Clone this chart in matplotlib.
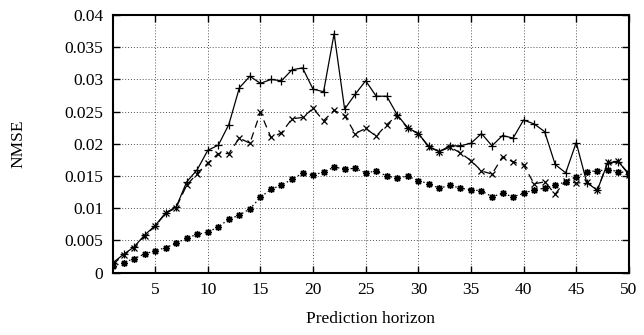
import numpy as np
import matplotlib
matplotlib.use("Agg")
import matplotlib.pyplot as plt

plt.rcParams['font.family'] = ['Liberation Serif', 'DejaVu Serif']

horizon = np.arange(1, 51)

# NMSE per prediction horizon, three models
nmse_solid = [
    0.00155, 0.00285, 0.0040, 0.00585, 0.0073, 0.0093, 0.0102, 0.0141, 0.0160, 0.0190,
    0.0198, 0.0230, 0.0287, 0.0305, 0.0294, 0.0300, 0.0298, 0.0315, 0.0318, 0.0285,
    0.0281, 0.0371, 0.0254, 0.0277, 0.0298, 0.0274, 0.0274, 0.0245, 0.0225, 0.0216,
    0.0196, 0.0188, 0.0197, 0.0197, 0.0201, 0.0216, 0.0197, 0.0213, 0.0209, 0.0237,
    0.0231, 0.0219, 0.0168, 0.0155, 0.0202, 0.0140, 0.0128, 0.0171, 0.0172, 0.0154,
]
nmse_dashed = [
    0.0013, 0.00275, 0.0039, 0.0057, 0.00725, 0.0092, 0.0101, 0.0136, 0.0154, 0.0170,
    0.0185, 0.0185, 0.0209, 0.0201, 0.0249, 0.0210, 0.0217, 0.0239, 0.0241, 0.0255,
    0.0236, 0.0252, 0.0244, 0.0216, 0.0224, 0.0212, 0.0230, 0.0244, 0.0224, 0.0216,
    0.0195, 0.0188, 0.0195, 0.0186, 0.0174, 0.0158, 0.0153, 0.0180, 0.0172, 0.0167,
    0.0138, 0.0141, 0.0122, 0.0143, 0.0139, 0.0141, 0.0128, 0.0172, 0.0173, 0.0152,
]
nmse_dotted = [
    0.0010, 0.00155, 0.0022, 0.0029, 0.0034, 0.0039, 0.00455, 0.0054, 0.00595, 0.0063,
    0.0071, 0.0083, 0.00895, 0.0099, 0.0117, 0.01295, 0.0136, 0.0145, 0.01545, 0.0152,
    0.0156, 0.0164, 0.0161, 0.0162, 0.0155, 0.0158, 0.0150, 0.0147, 0.0150, 0.0143,
    0.0138, 0.0131, 0.0136, 0.0131, 0.0129, 0.0127, 0.0118, 0.0123, 0.0118, 0.0123,
    0.0129, 0.0131, 0.0136, 0.0141, 0.0149, 0.0157, 0.0158, 0.0160, 0.0157, 0.0155,
]

x_ticks = [5, 10, 15, 20, 25, 30, 35, 40, 45, 50]
y_ticks = [0, 0.005, 0.01, 0.015, 0.02, 0.025, 0.03, 0.035, 0.04]
y_tick_labels = ['0', '0.005', '0.01', '0.015', '0.02', '0.025', '0.03', '0.035', '0.04']

fig = plt.figure(figsize=(6.44, 3.35), dpi=100)
ax = fig.add_axes([0.1755, 0.186, 0.801, 0.769])

asterisk = (8, 2, 0)
ax.plot(horizon, nmse_solid, color='black', lw=0.9, ls='-', marker='+',
        ms=5.5, mew=0.9, zorder=3)
ax.plot(horizon, nmse_dashed, color='black', lw=0.9, ls=(0, (6, 4)), marker='x',
        ms=4.5, mew=0.9, zorder=3)
ax.plot(horizon, nmse_dotted, color='black', lw=0.9, ls=(0, (1.2, 2.2)), marker=asterisk,
        ms=5, mew=1.0, zorder=3)

ax.set_xlim(1, 50)
ax.set_ylim(0, 0.04)
ax.set_xticks(x_ticks)
ax.set_yticks(y_ticks)
ax.set_yticklabels(y_tick_labels)

ax.grid(True, color='#555555', ls=(0, (1, 2)), lw=0.7)
ax.tick_params(direction='in', top=True, right=True, length=5, width=1.0,
               labelsize=12.5, pad=7)
for s in ax.spines.values():
    s.set_linewidth(1.5)

ax.set_xlabel('Prediction horizon', fontsize=12.5, labelpad=9)
ax.set_ylabel('NMSE', fontsize=12.5, labelpad=27)

fig.savefig('out.png', dpi=100)
